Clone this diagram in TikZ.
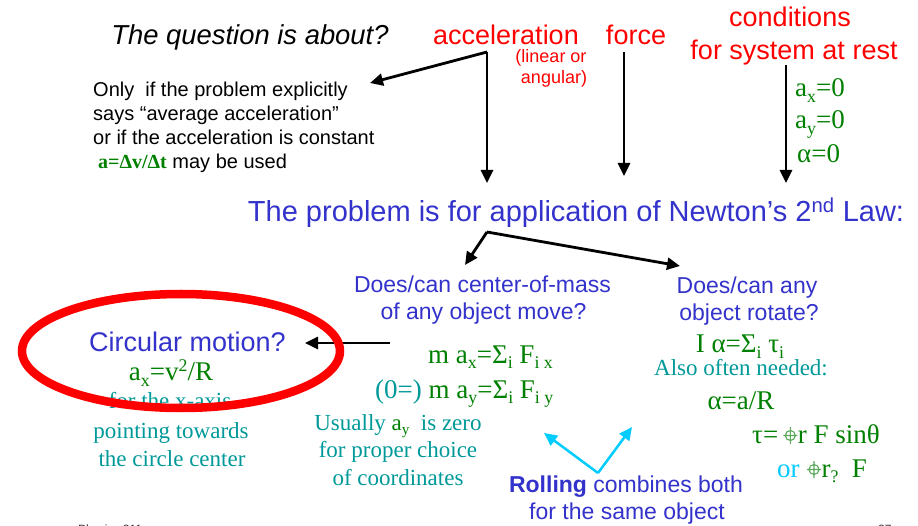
\documentclass[tikz,border=0pt]{standalone}
\usepackage{fontspec}
\setmainfont{Liberation Sans}
\newfontfamily\serifT{Liberation Serif}
\usetikzlibrary{arrows.meta}
\definecolor{blueT}{RGB}{51,51,204}
\definecolor{greenT}{RGB}{0,128,0}
\definecolor{tealT}{RGB}{0,153,153}
\definecolor{redT}{RGB}{255,0,0}
\definecolor{cyanA}{RGB}{0,204,255}
\definecolor{xgreen}{RGB}{90,170,90}
\newcommand{\fs}[1]{\fontsize{#1}{#1}\selectfont}
\newcommand{\lo}[1]{\raisebox{-0.21em}{\edef\lsz{\the\dimexpr0.66em\relax}\fontsize{\lsz}{\lsz}\selectfont #1}}
\newcommand{\hi}[1]{\raisebox{0.36em}{\edef\lsz{\the\dimexpr0.66em\relax}\fontsize{\lsz}{\lsz}\selectfont #1}}
\newcommand{\xhair}{\tikz[baseline={(0pt,-7.5pt)},x=1pt,y=1pt]{\draw[xgreen,line width=1.1pt] (0,0) circle (5) (-7,0)--(7,0) (0,-8.5)--(0,8.5);}}
\begin{document}
\begin{tikzpicture}[x=1pt,y=-1pt,
  txt/.style={inner sep=0pt, anchor=base},
  txtl/.style={inner sep=0pt, anchor=base west},
  sbig/.style={font=\fs{27}},
  smid/.style={font=\fs{23}},
  ssml/.style={font=\fs{20}},
  rbig/.style={font=\serifT\fs{27}},
  rmid/.style={font=\serifT\fs{23}},
  arr/.style={line width=2.8pt, -{Triangle[length=13pt,width=12pt]}},
  carr/.style={line width=2.5pt, draw=cyanA, -{Triangle[length=13pt,width=12pt]}}]
\useasboundingbox[fill=white] (0,0) rectangle (918,526);

% top row
\node[txt, font=\fs{27.4}\itshape] (quest) at (250,45) {The question is about?};
\node[txt, sbig, text=redT] (accel) at (506,45) {acceleration};
\node[txt, text=redT, font=\fs{18}] (lin1) at (551,63) {(linear or};
\node[txt, text=redT, font=\fs{18}] (lin2) at (554,84) {angular)};
\node[txt, sbig, text=redT] (force) at (636,45) {force};
\node[txt, sbig, text=redT] (cond1) at (790,27) {conditions};
\node[txt, sbig, text=redT] (cond2) at (794,60) {for system at rest};
\node[txtl, rbig, text=greenT] (c1) at (795,97) {a\lo{x}=0};
\node[txtl, rbig, text=greenT] (c2) at (795,129) {a\lo{y}=0};
\node[txtl, rbig, text=greenT] (c3) at (797,163) {α=0};

% left note
\node[txtl, ssml] (o1) at (93,97) {Only\ \ if the problem explicitly};
\node[txtl, ssml] (o2) at (93,121) {says “average acceleration”};
\node[txtl, ssml] (o3) at (93,145) {or if the acceleration is constant};
\node[txtl, ssml] (o4) at (98,169) {{\serifT\bfseries\color{greenT}a=Δv/Δt} may be used};

% Newton line
\node[txt, text=blueT, font=\fs{29}] (newton) at (576,222) {The problem is for application of Newton’s 2\textsuperscript{nd} Law:};

% second level questions
\node[txt, smid, text=blueT] (com1) at (482.5,293) {Does/can center-of-mass};
\node[txt, smid, text=blueT] (com2) at (483.5,320) {of any object move?};
\node[txt, smid, text=blueT] (rot1) at (747,294) {Does/can any};
\node[txt, smid, text=blueT] (rot2) at (749,321) {object rotate?};

% circular motion
\node[txt, sbig, text=blueT] (circ) at (187.5,352) {Circular motion?};
\node[txt, rbig, text=greenT] (cent) at (171,381) {a\lo{x}=v\hi{2}/R};
\node[txt, rmid, text=tealT] (cm1) at (170,408) {for the x-axis};
\node[txt, rmid, text=tealT] (cm2) at (171,438) {pointing towards};
\node[txt, rmid, text=tealT] (cm3) at (172,466) {the circle center};

% linear equations
\node[txtl, rbig, text=greenT] (eqx) at (428,363) {m a\lo{x}=Σ\lo{i} F\lo{i x}};
\node[txtl, rbig, text=greenT] (eqy) at (375,398) {{\color{tealT}(0=)} m a\lo{y}=Σ\lo{i} F\lo{i y}};
\node[txt, rmid, text=tealT] (us1) at (398,430) {Usually {\color{greenT}a\lo{y}}\ \ is zero};
\node[txt, rmid, text=tealT] (us2) at (398,457) {for proper choice};
\node[txt, rmid, text=tealT] (us3) at (398,485) {of coordinates};

% rotation equations
\node[txt, rbig, text=greenT] (eqr) at (740,353) {I α=Σ\lo{i} τ\lo{i}};
\node[txt, rmid, text=tealT] (also) at (741,375) {Also often needed:};
\node[txt, rbig, text=greenT] (alR) at (741,409) {α=a/R};
\node[txtl, rbig, text=greenT] (tau1) at (752,443) {τ=\,\xhair r F sinθ};
\node[txtl, rbig, text=greenT] (tau2) at (777,477) {{\color{cyanA}or} \xhair r\lo{?}\ \ F};

% rolling
\node[txt, smid, text=blueT] (roll1) at (626,492) {{\bfseries Rolling} combines both};
\node[txt, smid, text=blueT] (roll2) at (627,519) {for the same object};

% footer (cut off at the lower edge, as in the reference)
\node[txtl, font=\fs{12}, text=black!80] (foot1) at (78,533) {Physics 211};
\node[txtl, font=\fs{12}, text=black!80] (foot2) at (878,533) {27};

% connector points
\coordinate (aTop) at (487,52);
\coordinate (aEnd) at (487,183);
\coordinate (aNote) at (370,83);
\coordinate (fTop) at (624,52);
\coordinate (fEnd) at (624,176);
\coordinate (cTop) at (786,65);
\coordinate (cEnd) at (786,183);
\coordinate (nTop) at (487,232);
\coordinate (nL) at (465,265);
\coordinate (nR) at (680,266);
\coordinate (mStart) at (390,343);
\coordinate (mEnd) at (305,343);
\coordinate (rTop) at (598,473);
\coordinate (rL) at (544,433);
\coordinate (rR) at (632,427);

\draw[arr] (aTop) -- (aEnd);
\draw[arr] (aTop) -- (aNote);
\draw[arr] (fTop) -- (fEnd);
\draw[arr] (cTop) -- (cEnd);
\draw[arr] (nTop) -- (nL);
\draw[arr] (nTop) -- (nR);
\draw[arr] (mStart) -- (mEnd);
\draw[carr] (rTop) -- (rL);
\draw[carr] (rTop) -- (rR);

% red highlight ellipse
\draw[redT, line width=8.5pt] (181,351) ellipse [x radius=159, y radius=57];
\end{tikzpicture}
\end{document}
